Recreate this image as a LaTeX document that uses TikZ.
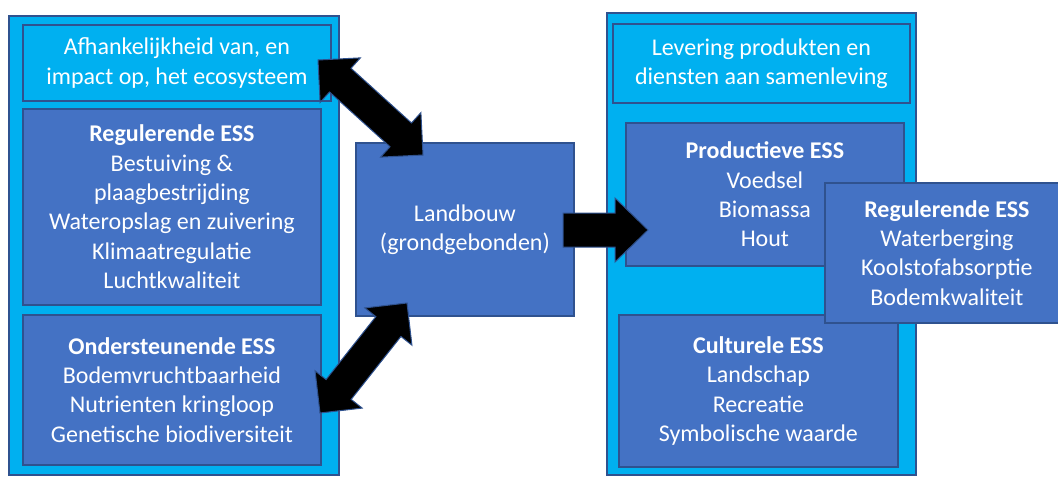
\documentclass[tikz,border=0pt]{standalone}
\usepackage{fontspec}
\setmainfont{Carlito}
\usetikzlibrary{calc}
\definecolor{lightblue}{HTML}{00B0F0}
\definecolor{boxblue}{HTML}{4472C4}
\definecolor{edgeblue}{HTML}{2F528F}
\tikzset{
  outerbox/.style={draw=edgeblue, fill=lightblue, line width=1.8pt, inner sep=0pt, anchor=north west},
  headbox/.style={draw=edgeblue, fill=lightblue, line width=1.8pt, inner sep=0pt, anchor=north west, text=white, align=center, font=\fontsize{24}{29.3}\selectfont},
  essbox/.style={draw=edgeblue, fill=boxblue, line width=1.8pt, inner sep=0pt, anchor=north west, text=white, align=center, font=\fontsize{24}{29.3}\selectfont},
  blockarrow/.style={fill=black, draw=edgeblue, line width=1pt, line join=miter}
}
\newcommand\dblarrow[2]{%
  \path ($(#1)!30pt!(#2)$) coordinate (ha) ($(#2)!30pt!(#1)$) coordinate (hb);
  \filldraw[blockarrow] (#1) -- ($(ha)!30pt!90:(#2)$) -- ($(ha)!16pt!90:(#2)$)
    -- ($(hb)!16pt!-90:(#1)$) -- ($(hb)!30pt!-90:(#1)$) -- (#2)
    -- ($(hb)!30pt!90:(#1)$) -- ($(hb)!16pt!90:(#1)$)
    -- ($(ha)!16pt!-90:(#2)$) -- ($(ha)!30pt!-90:(#2)$) -- cycle;}
\begin{document}
\begin{tikzpicture}[x=1pt,y=-1pt]
\useasboundingbox (0,0) rectangle (1058,477);
% left column
\node[outerbox, minimum width=330pt, minimum height=459pt] (louter) at (8,15) {};
\node[headbox, minimum width=308pt, minimum height=76pt] (afh) at (22,24) {Afhankelijkheid van, en\\impact op, het ecosysteem};
\node[essbox, minimum width=298pt, minimum height=196pt] (reg) at (22,108) {\textbf{Regulerende ESS}\\Bestuiving \&\\plaagbestrijding\\Wateropslag en zuivering\\Klimaatregulatie\\Luchtkwaliteit};
\node[essbox, minimum width=298pt, minimum height=150pt] (ond) at (22,314) {\textbf{Ondersteunende ESS}\\Bodemvruchtbaarheid\\Nutrienten kringloop\\Genetische biodiversiteit};
% middle
\node[essbox, minimum width=218pt, minimum height=173pt] (land) at (355,142) {Landbouw\\(grondgebonden)};
% right column
\node[outerbox, minimum width=309pt, minimum height=462pt] (router) at (606,12) {};
\node[headbox, minimum width=297pt, minimum height=79pt] (lev) at (612,23) {Levering produkten en\\diensten aan samenleving};
\node[essbox, minimum width=278pt, minimum height=143pt] (prod) at (625,122) {\textbf{Productieve ESS}\\Voedsel\\Biomassa\\Hout};
\node[essbox, minimum width=279pt, minimum height=152pt] (cult) at (618,314) {\textbf{Culturele ESS}\\Landschap\\Recreatie\\Symbolische waarde};
\node[essbox, minimum width=244pt, minimum height=140pt] (regr) at (824,182) {\textbf{Regulerende ESS}\\Waterberging\\Koolstofabsorptie\\Bodemkwaliteit};
% arrows
\coordinate (t1) at (318,60);
\coordinate (t2) at (423,155);
\coordinate (b1) at (407,303);
\coordinate (b2) at (320,413);
\dblarrow{t1}{t2}
\dblarrow{b1}{b2}
\coordinate (r1) at (563,230);
\coordinate (r2) at (648,230);
\filldraw[blockarrow] ($(r1)+(0,-17)$) -- ($(r2)+(-33,-17)$) -- ($(r2)+(-33,-32)$) -- (r2)
  -- ($(r2)+(-33,32)$) -- ($(r2)+(-33,17)$) -- ($(r1)+(0,17)$) -- cycle;
\end{tikzpicture}
\end{document}
